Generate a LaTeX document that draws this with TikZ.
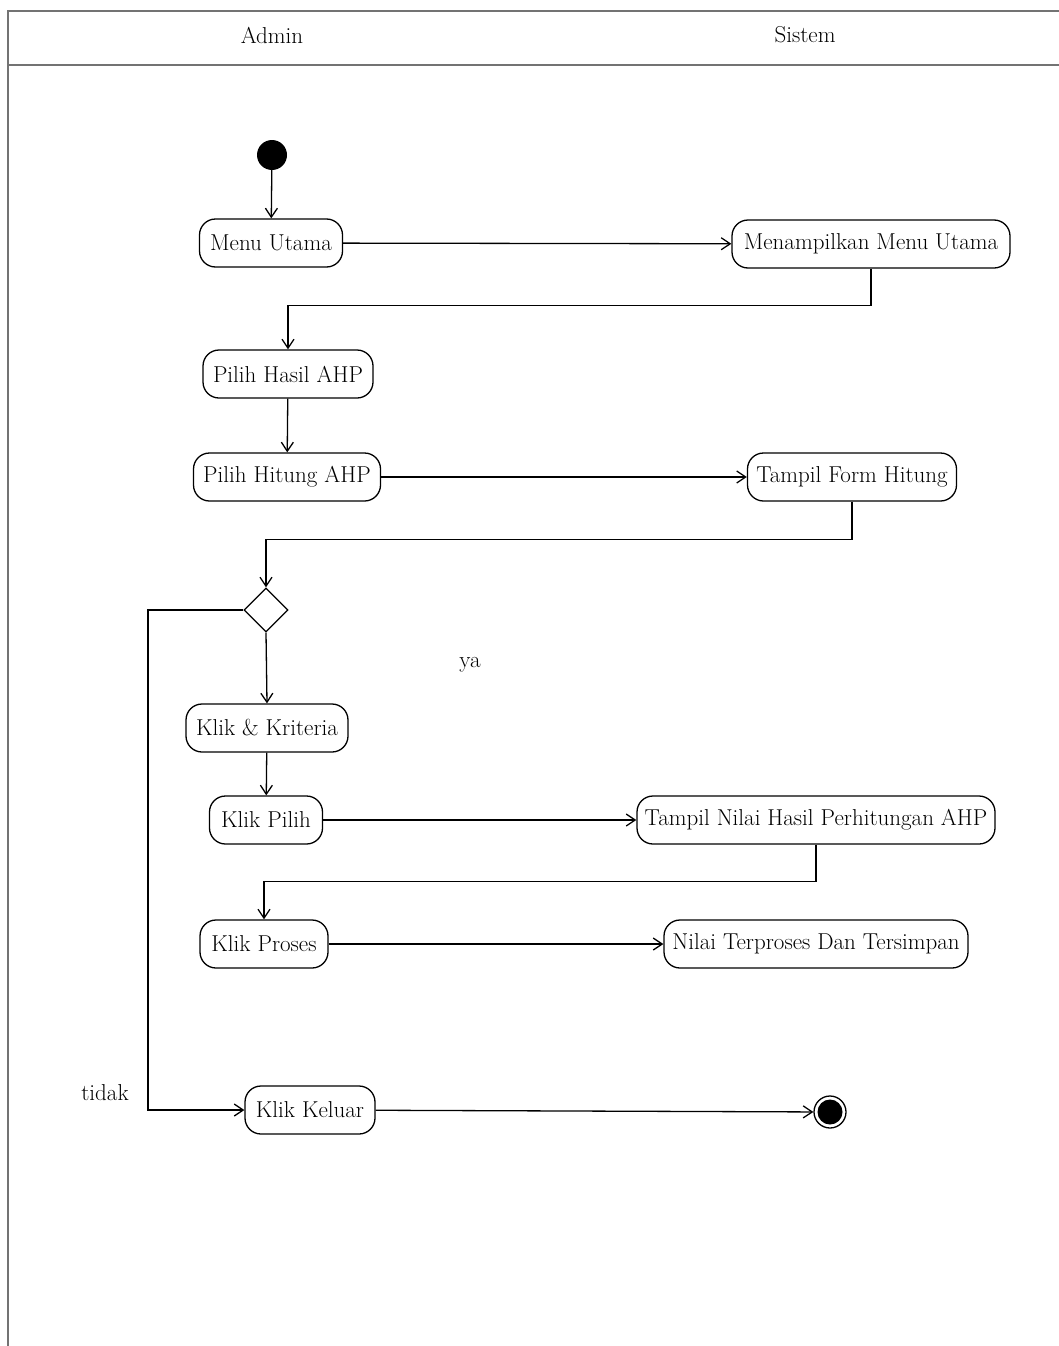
\documentclass[tikz,border=0pt]{standalone}
\usepackage{fontspec}
\usetikzlibrary{arrows.meta,shapes.geometric}
\begin{document}
\begin{tikzpicture}[x=1pt,y=-1pt,
  act/.style={draw,line width=1.3pt,rounded corners=16pt,minimum height=48pt,inner xsep=3pt,font=\fontsize{23}{26}\selectfont},
  flow/.style={line width=1.3pt,-{Straight Barb[length=9pt,width=12pt]}},
  frame/.style={draw=black!55,line width=2.2pt},
  lbl/.style={font=\fontsize{23}{26}\selectfont}]
\useasboundingbox (0,0) rectangle (1059,1346);
% swimlane frame
\draw[frame] (8,1346) -- (8,11) -- (1059,11);
\draw[frame] (8,65) -- (1059,65);
\node[lbl] (hAdmin) at (272,35) {Admin};
\node[lbl] (hSistem) at (805,35) {Sistem};
% nodes
\node[circle,fill=black,minimum size=30pt,inner sep=0pt] (start) at (272,155) {};
\node[act,minimum width=143pt] (menu) at (271,243) {Menu Utama};
\node[act,minimum width=278pt] (tampilMenu) at (871,244) {Menampilkan Menu Utama};
\node[act,minimum width=170pt] (hasil) at (288,374) {Pilih Hasil AHP};
\node[act,minimum width=187pt] (hitung) at (287,477) {Pilih Hitung AHP};
\node[act,minimum width=209pt] (form) at (852,477) {Tampil Form Hitung};
\node[diamond,draw,line width=1.3pt,minimum width=44pt,minimum height=44pt,inner sep=0pt] (dec) at (266,610) {};
\node[act,minimum width=162pt] (kriteria) at (267,728) {Klik \& Kriteria};
\node[act,minimum width=113pt] (pilih) at (266,820) {Klik Pilih};
\node[act,minimum width=358pt] (nilaiHasil) at (816,820) {Tampil Nilai Hasil Perhitungan AHP};
\node[act,minimum width=128pt] (proses) at (264,944) {Klik Proses};
\node[act,minimum width=304pt] (terproses) at (816,944) {Nilai Terproses Dan Tersimpan};
\node[act,minimum width=130pt] (keluar) at (310,1110) {Klik Keluar};
\node[circle,draw,line width=1.3pt,minimum size=32pt,inner sep=0pt] (finish) at (830,1112) {};
\node[circle,fill=black,minimum size=25pt,inner sep=0pt] (finishDot) at (finish.center) {};
\node[lbl] (ya) at (470,665) {ya};
\node[lbl] (tidak) at (105,1093) {tidak};
% connectors
\draw[flow] (start) -- (menu);
\draw[flow] (menu) -- (tampilMenu);
\draw[flow] (tampilMenu.south) -- ++(0,37) -| (hasil.north);
\draw[flow] (hasil) -- (hitung);
\draw[flow] (hitung) -- (form);
\draw[flow] (form.south) -- ++(0,38) -| (dec.north);
\draw[flow] (dec.south) -- (kriteria.north);
\draw[flow] (dec.west) -- (148,610) |- (keluar.west);
\draw[flow] (kriteria) -- (pilih);
\draw[flow] (pilih) -- (nilaiHasil);
\draw[flow] (nilaiHasil.south) -- ++(0,37) -| (proses.north);
\draw[flow] (proses) -- (terproses);
\draw[flow] (keluar) -- (finish);
\end{tikzpicture}
\end{document}
